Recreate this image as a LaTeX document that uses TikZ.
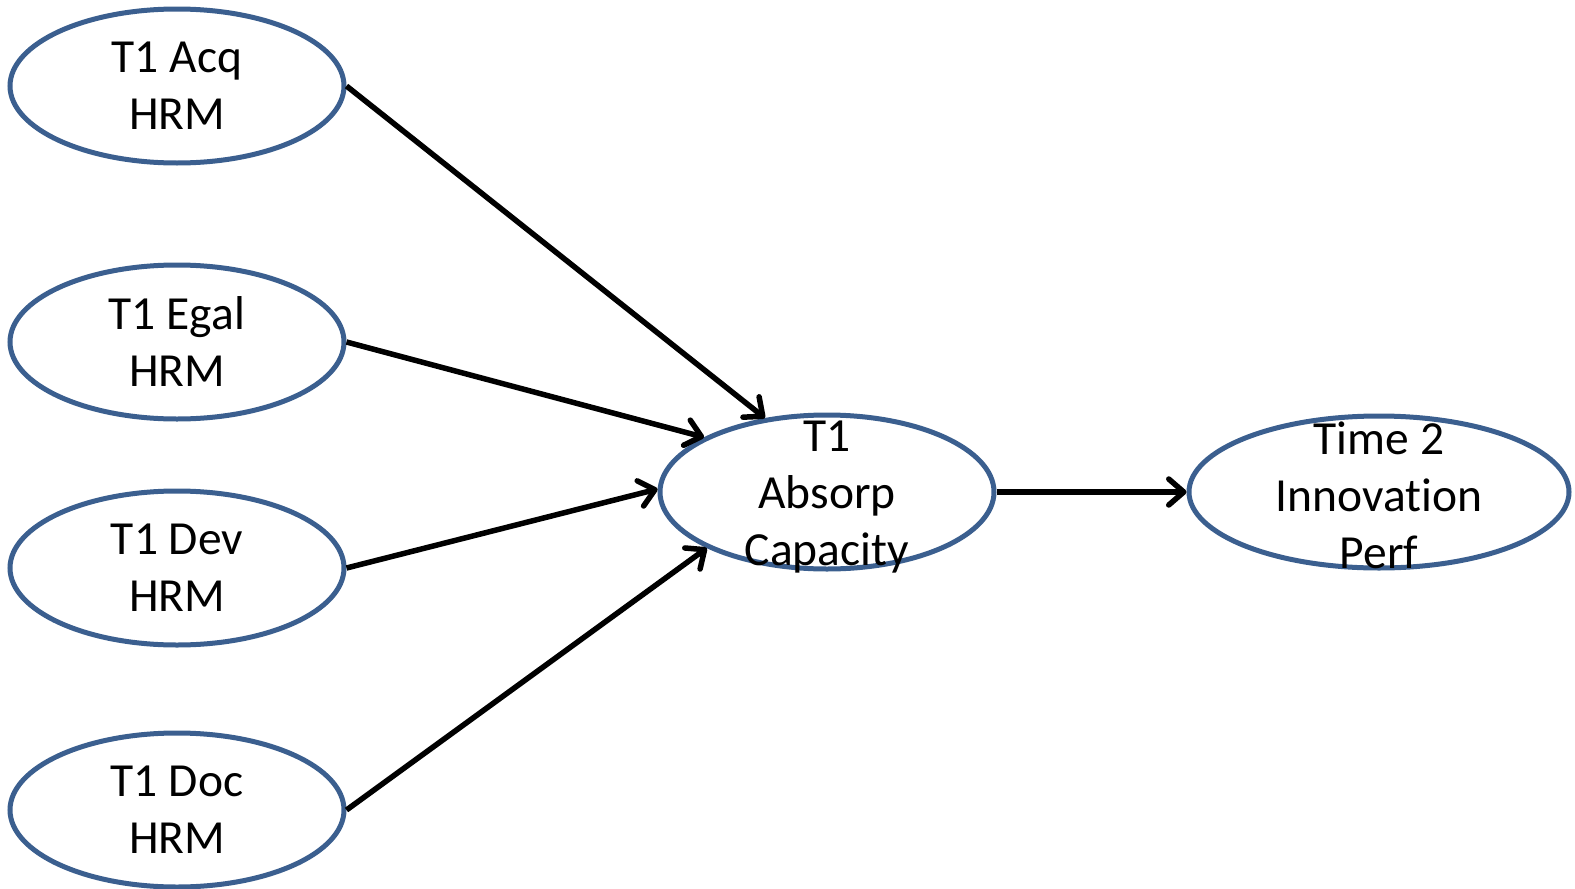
\documentclass[tikz,border=0pt]{standalone}
\usepackage{fontspec}
\setmainfont{Carlito}[RawFeature=-liga]
\usetikzlibrary{shapes.geometric,arrows.meta}
\definecolor{ellline}{HTML}{3B5F8F}
\tikzset{
  oval/.style={ellipse, draw=ellline, line width=5pt, fill=white, inner sep=0pt,
    minimum width=334pt, minimum height=154pt},
  lbl/.style={align=center, inner sep=0pt, font=\fontsize{47.5}{57}\selectfont},
  conn/.style={line width=5.5pt, -{Straight Barb[length=15pt,width=26pt,line cap=round,line join=round]}}
}
\begin{document}
\begin{tikzpicture}[x=1pt,y=-1pt]
\useasboundingbox (0,0) rectangle (1575,889);
\node[oval] (acq) at (177,86) {};
\node[oval] (egal) at (177,342) {};
\node[oval] (dev) at (177,568) {};
\node[oval] (doc) at (177,810) {};
\node[oval] (abs) at (827,492) {};
\node[oval, minimum width=380pt, minimum height=152pt] (inno) at (1379,492) {};
\node[lbl] (tacq) at (acq.center) {T1 Acq\\HRM};
\node[lbl] (tegal) at (egal.center) {T1 Egal\\HRM};
\node[lbl] (tdev) at (dev.center) {T1 Dev\\HRM};
\node[lbl] (tdoc) at (doc.center) {T1 Doc\\HRM};
\node[lbl, yshift=-5pt] (tabs) at (abs.center) {T1\\Absorp\\Capacity};
\node[lbl, yshift=-3pt] (tinno) at (inno.center) {Time 2\\Innovation\\Perf};
\draw[conn] (acq.east) -- (abs.130);
\draw[conn] (egal.east) -- (abs.156);
\draw[conn] (dev.east) -- (abs.179);
\draw[conn] (doc.east) -- (abs.205);
\draw[conn] (abs.east) -- (inno.west);
\end{tikzpicture}
\end{document}
